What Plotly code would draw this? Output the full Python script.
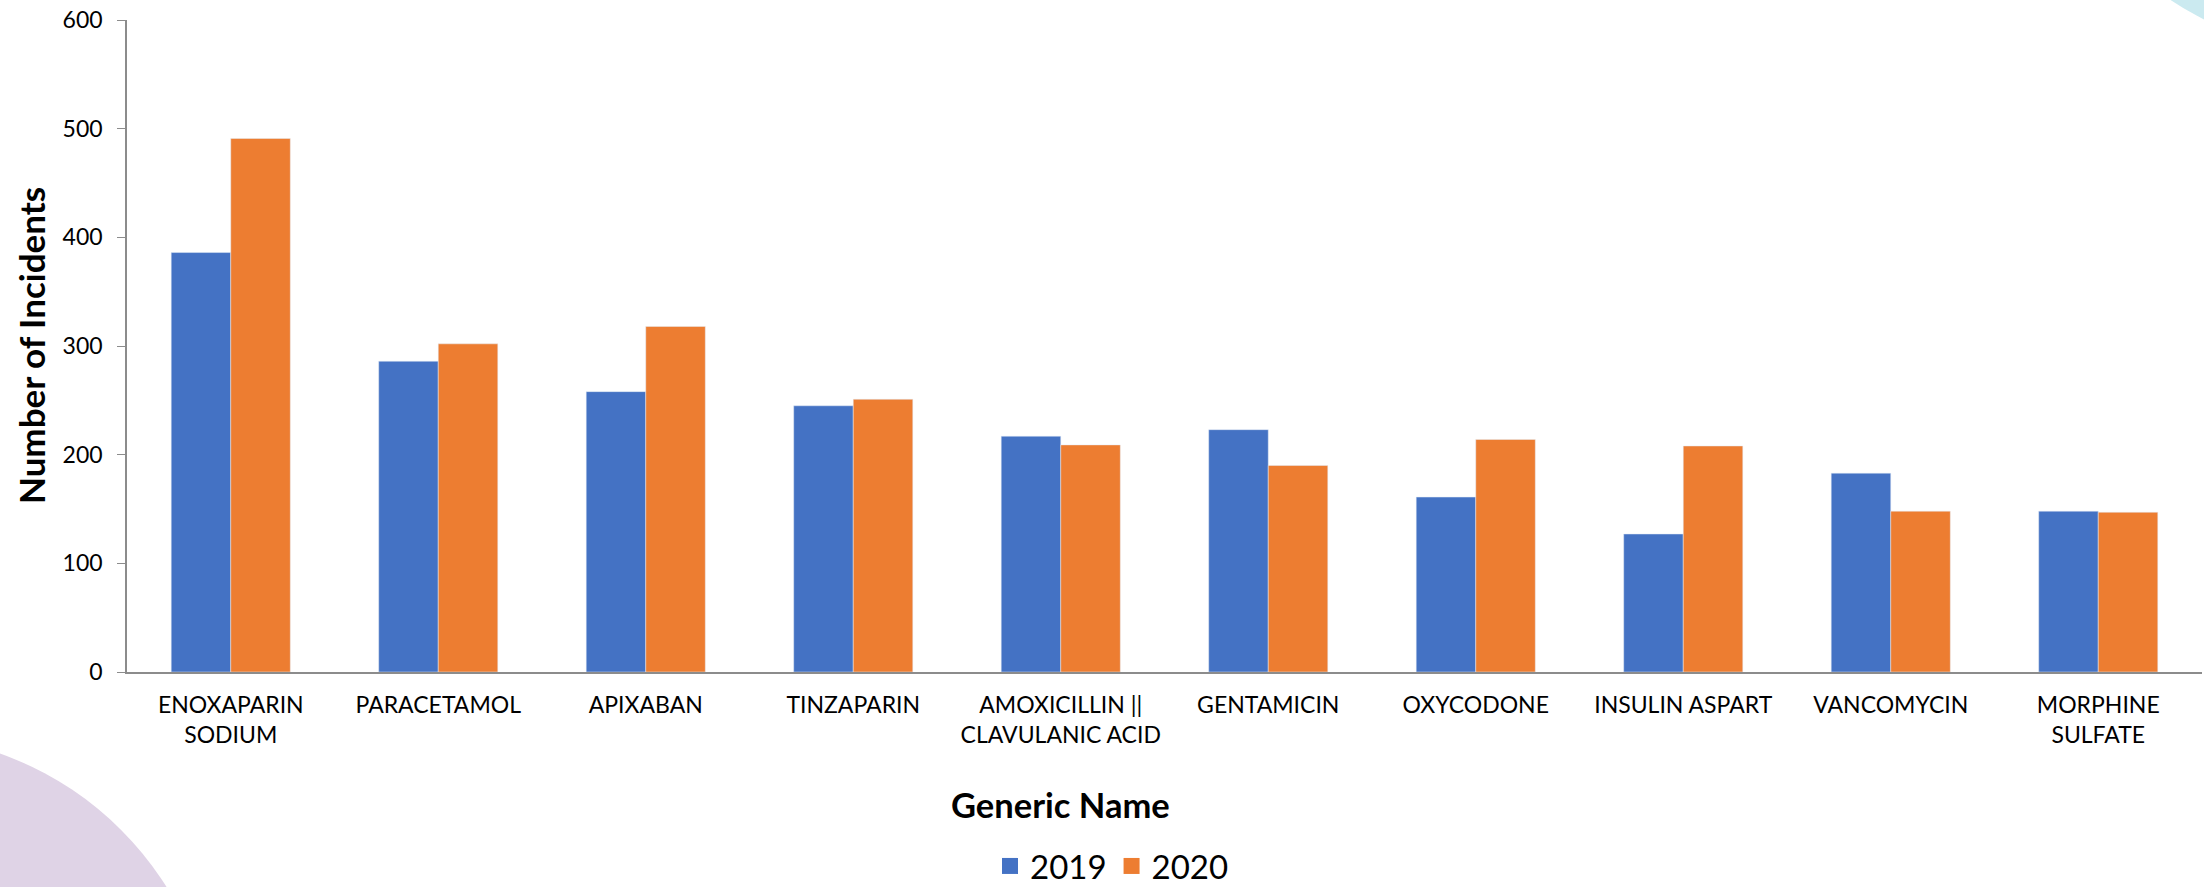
import plotly.graph_objects as go

# Top ten generic names by reported incidents
drugs = [
    "ENOXAPARIN<br>SODIUM",
    "PARACETAMOL",
    "APIXABAN",
    "TINZAPARIN",
    "AMOXICILLIN ||<br>CLAVULANIC ACID",
    "GENTAMICIN",
    "OXYCODONE",
    "INSULIN ASPART",
    "VANCOMYCIN",
    "MORPHINE<br>SULFATE",
]
incidents_2019 = [386, 286, 258, 245, 217, 223, 161, 127, 183, 148]
incidents_2020 = [491, 302, 318, 251, 209, 190, 214, 208, 148, 147]
y_ticks = [0, 100, 200, 300, 400, 500, 600]

BLUE = "#4472C4"
ORANGE = "#ED7D31"
AXIS_GREY = "#8C8C8C"
FONT = "Lato"

W, H = 2204, 887
ML, MR, MT, MB = 127, 2, 20, 215
PW = W - ML - MR
PH = H - MT - MB


def px_x(x):
    return (x - ML) / PW


def px_y(y):
    return (H - MB - y) / PH


fig = go.Figure()
fig.add_trace(go.Bar(name="2019", x=drugs, y=incidents_2019,
                     marker_color=BLUE, showlegend=False, legendgroup="2019"))
fig.add_trace(go.Bar(name="2020", x=drugs, y=incidents_2020,
                     marker_color=ORANGE, showlegend=False, legendgroup="2020"))

# legend keys with larger square swatches
for name, col in (("2019", BLUE), ("2020", ORANGE)):
    fig.add_trace(go.Scatter(name=name, x=[None], y=[None], mode="markers",
                             marker=dict(symbol="square", size=16, color=col),
                             legendgroup=name, showlegend=True))

# decorative background circles
fig.add_shape(type="circle", xref="paper", yref="paper", layer="below",
              x0=px_x(-108 - 324), x1=px_x(-108 + 324),
              y0=px_y(1059 + 324), y1=px_y(1059 - 324),
              fillcolor="#DFD3E6", line_width=0)
fig.add_shape(type="circle", xref="paper", yref="paper", layer="below",
              x0=px_x(2338 - 300), x1=px_x(2338 + 300),
              y0=px_y(-249 + 300), y1=px_y(-249 - 300),
              fillcolor="#CBEAF0", line_width=0)

fig.add_annotation(text="<b>Number of Incidents</b>", textangle=-90,
                   xref="paper", yref="paper", x=px_x(31), y=0.5,
                   xanchor="center", yanchor="middle", showarrow=False,
                   font=dict(family=FONT, size=35, color="#000000"))
fig.add_annotation(text="<b>Generic Name</b>",
                   xref="paper", yref="paper", x=px_x(1060), y=px_y(804),
                   xanchor="center", yanchor="middle", showarrow=False,
                   font=dict(family=FONT, size=34.5, color="#000000"))

fig.update_layout(
    width=W, height=H,
    margin=dict(l=ML, r=MR, t=MT, b=MB, pad=0, autoexpand=False),
    paper_bgcolor="#FFFFFF", plot_bgcolor="rgba(0,0,0,0)",
    barmode="group", bargap=0.426, bargroupgap=0,
    font=dict(family=FONT, color="#000000"),
    legend=dict(orientation="h", xref="container", yref="container",
                x=1112 / W, y=(H - 866) / H,
                xanchor="center", yanchor="middle",
                font=dict(family=FONT, size=33, color="#000000"),
                bgcolor="rgba(0,0,0,0)", itemclick=False),
    xaxis=dict(showline=True, linecolor=AXIS_GREY, linewidth=1.5,
               ticks="", showgrid=False, zeroline=False, automargin=False,
               tickfont=dict(family=FONT, size=23, color="#000000"),
               ticklabelstandoff=12),
    yaxis=dict(range=[0, 600], tickvals=y_ticks, showline=True,
               linecolor=AXIS_GREY, linewidth=1.5, ticks="outside",
               ticklen=8, tickcolor=AXIS_GREY, showgrid=False,
               zeroline=False, ticklabelstandoff=10, automargin=False,
               tickfont=dict(family=FONT, size=23, color="#000000")),
)

fig.write_html("out.html")
